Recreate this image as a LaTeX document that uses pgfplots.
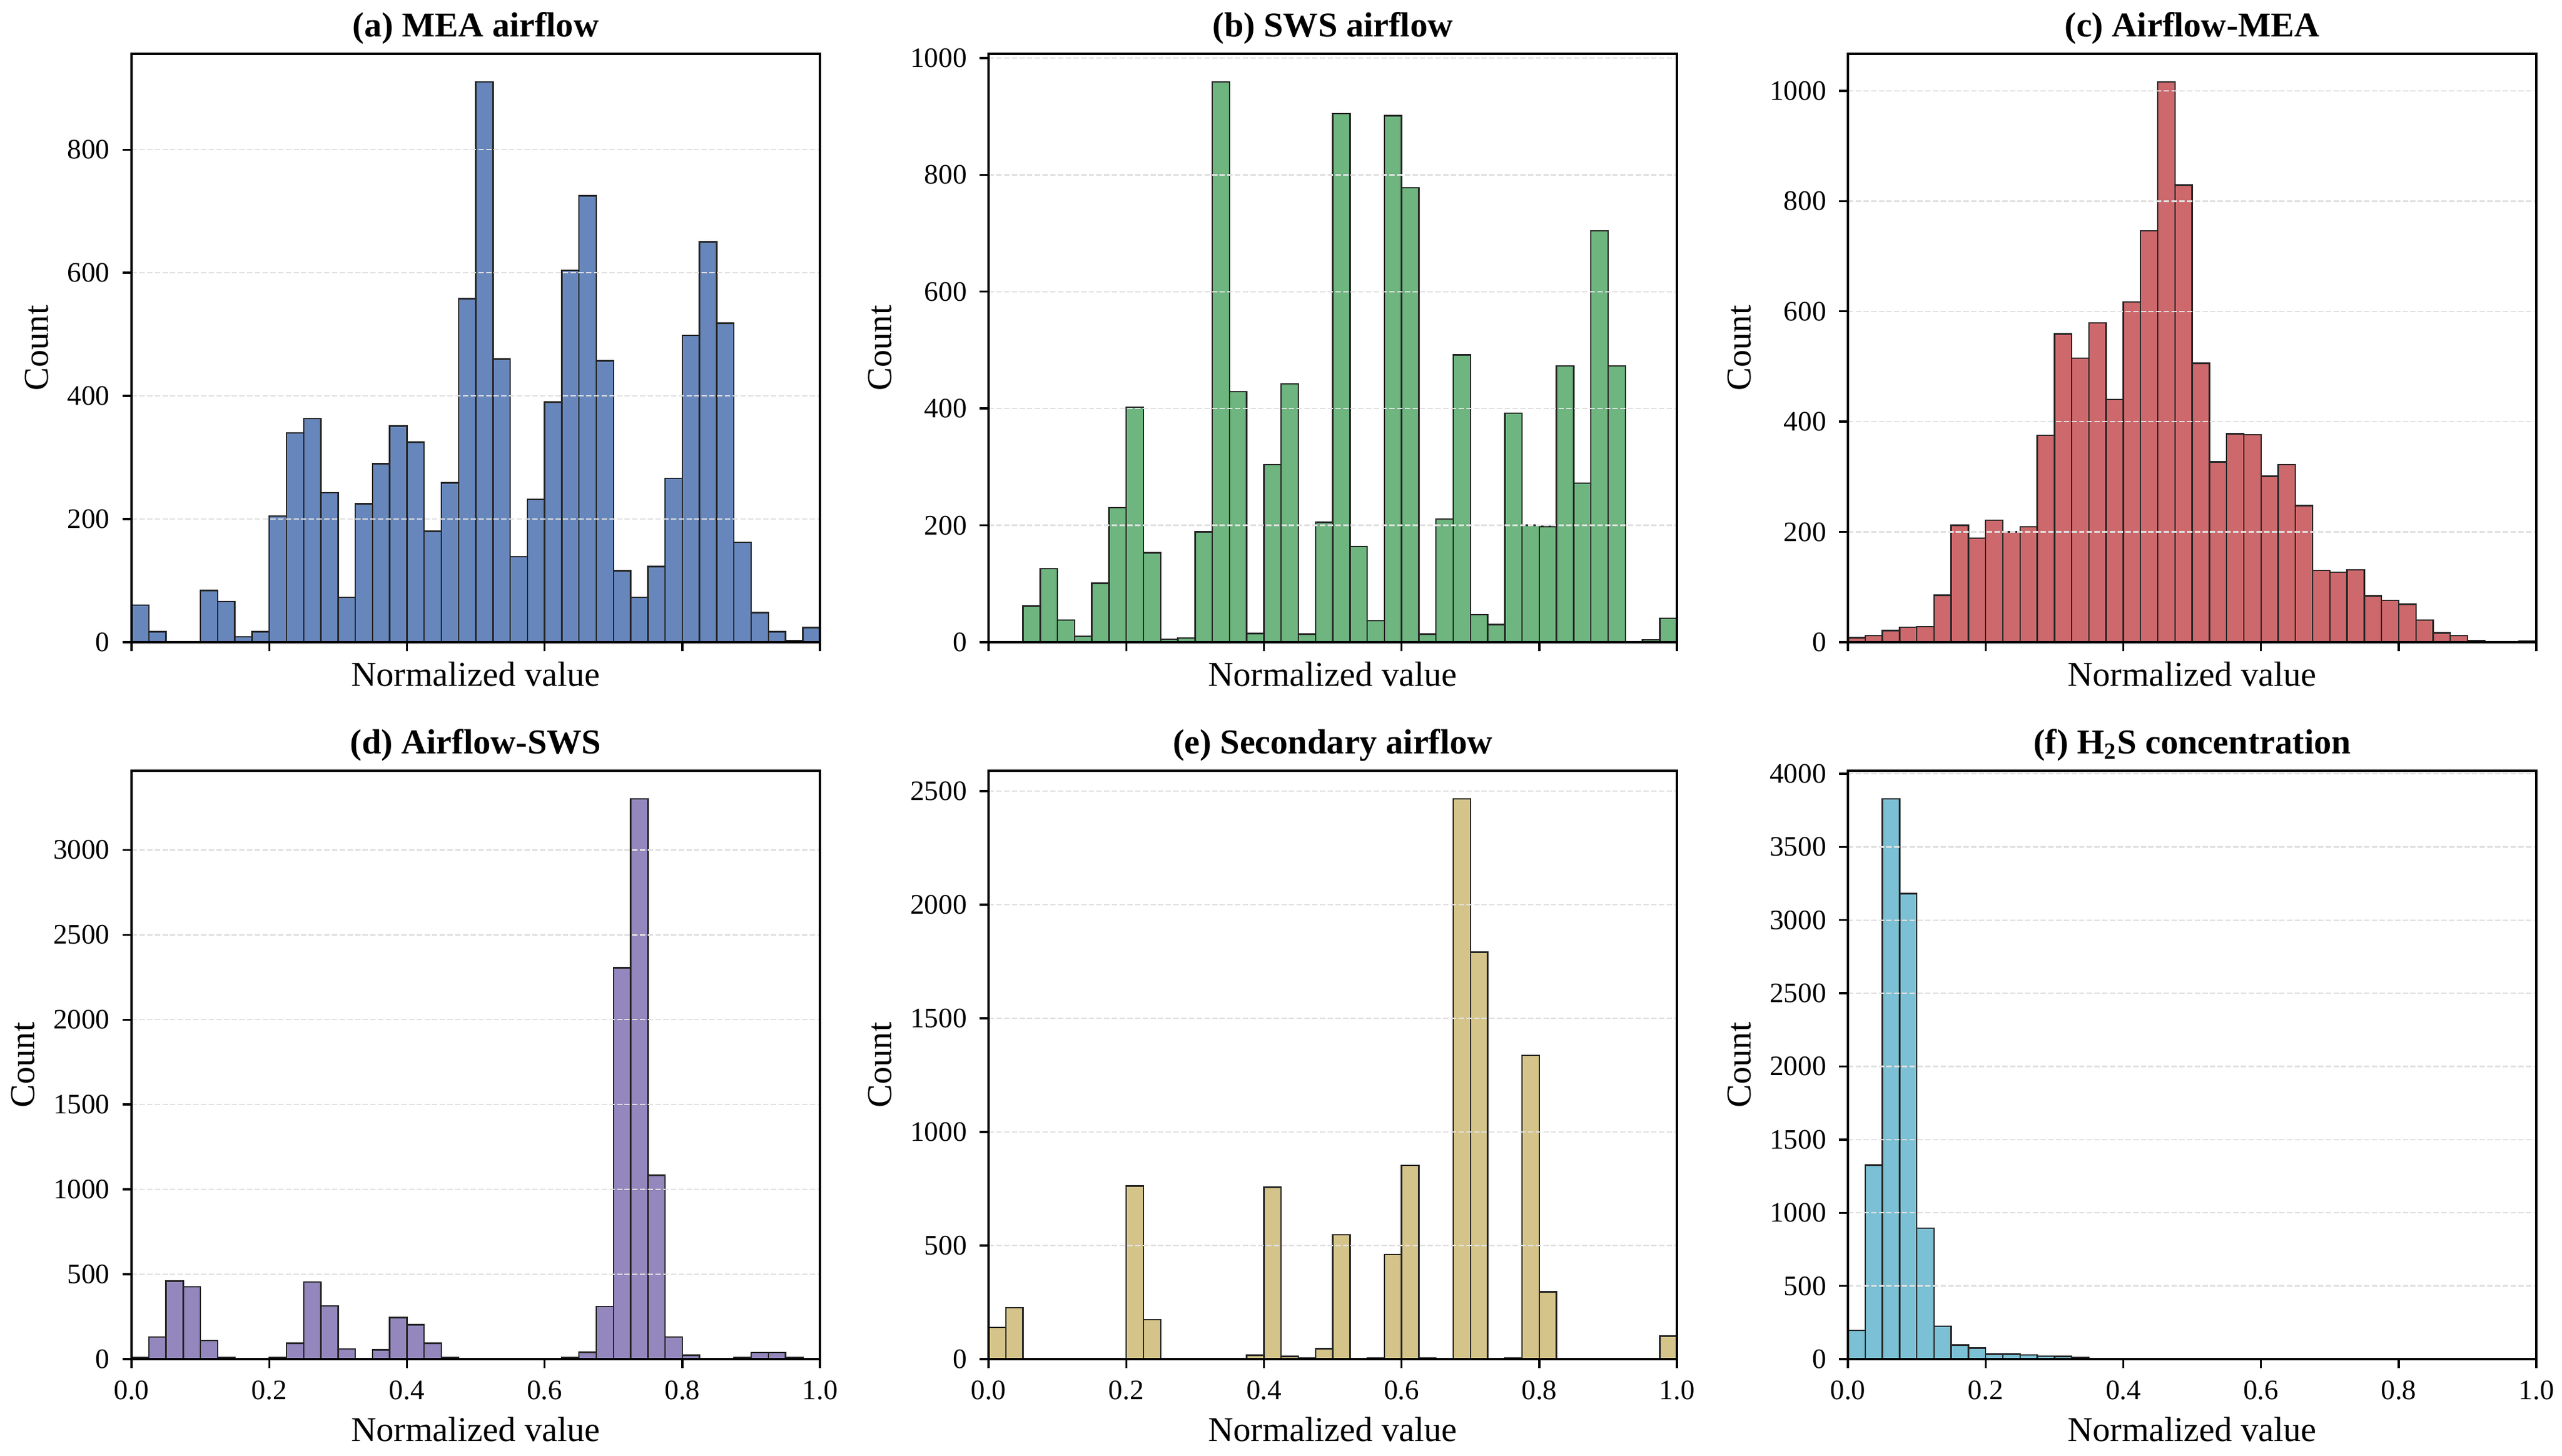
\documentclass[border=0pt]{standalone}
\usepackage{fontspec}
\setmainfont{Liberation Serif}
\usepackage{pgfplots}
\usepackage{pgfplotstable}
\pgfplotsset{compat=1.18}
\definecolor{ca}{RGB}{103,135,188}
\definecolor{cb}{RGB}{110,181,127}
\definecolor{cc}{RGB}{205,105,108}
\definecolor{cd}{RGB}{148,135,190}
\definecolor{ce}{RGB}{212,196,137}
\definecolor{cf}{RGB}{123,192,212}
\pgfplotstableread{
x      a    b    c     d     e     f
0.0125 60   1    8     11    140   197
0.0375 17   0    12    131   226   1325
0.0625 0    62   21    459   0     3829
0.0875 0    126  27    427   0     3180
0.1125 84   38   28    110   0     894
0.1375 66   10   85    11    0     224
0.1625 9    101  212   0     0     96
0.1875 17   230  189   0     0     75
0.2125 205  402  221   9     762   35
0.2375 340  153  200   94    173   35
0.2625 363  5    209   454   0     29
0.2875 243  7    375   314   0     21
0.3125 73   189  559   60    0     19
0.3375 225  959  515   4     0     11
0.3625 290  429  579   55    0     5
0.3875 351  15   440   245   17    4
0.4125 325  304  617   202   756   3
0.4375 180  442  746   94    12    2
0.4625 259  14   1016  11    5     2
0.4875 558  205  829   2     46    0
0.5125 910  905  506   2     547   0
0.5375 460  164  327   0     0     0
0.5625 139  37   378   0     5     0
0.5875 232  901  376   0     461   0
0.6125 390  778  301   0     853   0
0.6375 604  14   322   9     5     0
0.6625 725  211  248   41    3     0
0.6875 457  492  130   310   2466  0
0.7125 116  47   127   2305  1791  0
0.7375 73   30   131   3301  0     0
0.7625 123  392  84    1083  5     0
0.7875 266  200  76    131   1337  0
0.8125 498  198  69    23    296   0
0.8375 650  473  40    0     0     0
0.8625 518  272  17    0     0     0
0.8875 162  704  12    11    0     0
0.9125 48   473  3     39    0     0
0.9375 17   0    1     39    0     0
0.9625 3    4    1     11    0     0
0.9875 24   41   2     0     101   0
}\hist
\pgfplotsset{
  hbase/.style={
    scale only axis, width=236.8pt, height=202.4pt,
    anchor=south west,
    xmin=0, xmax=1, ymin=0,
    xtick={0,0.2,0.4,0.6,0.8,1.0},
    tick align=outside, tick pos=left,
    major tick length=3.1pt,
    tick style={line width=0.7pt, black},
    axis line style={line width=0.7pt, black},
    ymajorgrids,
    major grid style={line width=0.5pt, black!12, dash pattern=on 1.85pt off 0.8pt},
    axis on top,
    scaled ticks=false,
    /pgf/number format/assume math mode=true,
    /pgf/number format/1000 sep={},
    tick label style={font=\fontsize{9.7}{11}\selectfont, inner sep=0pt},
    ticklabel shift=4.2pt,
    xticklabel style={/pgf/number format/fixed, /pgf/number format/fixed zerofill, /pgf/number format/precision=1},
    label style={font=\fontsize{12}{14}\selectfont},
    ylabel={Count},
    xlabel={Normalized value},
    ylabel style={at={(ticklabel cs:0.5,6.3pt)}, anchor=near ticklabel, inner sep=0pt},
    every axis title shift=0pt,
    title style={font=\bfseries\fontsize{12}{14}\selectfont, at={(0.5,1)}, anchor=base, yshift=5.8pt},
  },
  toprow/.style={hbase, xticklabels={}, xlabel style={at={(0.5,0)}, anchor=base, yshift=-15.2pt}},
  botrow/.style={hbase, xlabel style={at={(0.5,0)}, anchor=base, yshift=-28.2pt}},
  bars/.style={ybar, bar width=0.025, bar shift=0pt, draw=black!85, line width=0.5pt, fill=#1},
}
\begin{document}
\begin{tikzpicture}
\path[use as bounding box] (0,0) rectangle (881.28pt,500.71pt);
\begin{axis}[toprow, at={(45.26pt,279.77pt)}, ymax=955.5, ytick={0,200,400,600,800}, title={(a) MEA airflow}]
\addplot[bars=ca] table[x=x,y=a]{\hist};
\end{axis}
\begin{axis}[toprow, at={(340.05pt,279.77pt)}, ymax=1007, ytick={0,200,400,600,800,1000}, title={(b) SWS airflow}]
\addplot[bars=cb] table[x=x,y=b]{\hist};
\end{axis}
\begin{axis}[toprow, at={(635.66pt,279.77pt)}, ymax=1067, ytick={0,200,400,600,800,1000}, title={(c) Airflow-MEA}]
\addplot[bars=cc] table[x=x,y=c]{\hist};
\end{axis}
\begin{axis}[botrow, at={(45.26pt,33.12pt)}, ymax=3466, ytick={0,500,1000,1500,2000,2500,3000}, title={(d) Airflow-SWS}]
\addplot[bars=cd] table[x=x,y=d]{\hist};
\end{axis}
\begin{axis}[botrow, at={(340.05pt,33.12pt)}, ymax=2589, ytick={0,500,1000,1500,2000,2500}, title={(e) Secondary airflow}]
\addplot[bars=ce] table[x=x,y=e]{\hist};
\end{axis}
\begin{axis}[botrow, at={(635.66pt,33.12pt)}, ymax=4020, ytick={0,500,1000,1500,2000,2500,3000,3500,4000}, title={(f) H\textsubscript{2}S concentration}]
\addplot[bars=cf] table[x=x,y=f]{\hist};
\end{axis}
\end{tikzpicture}
\end{document}
